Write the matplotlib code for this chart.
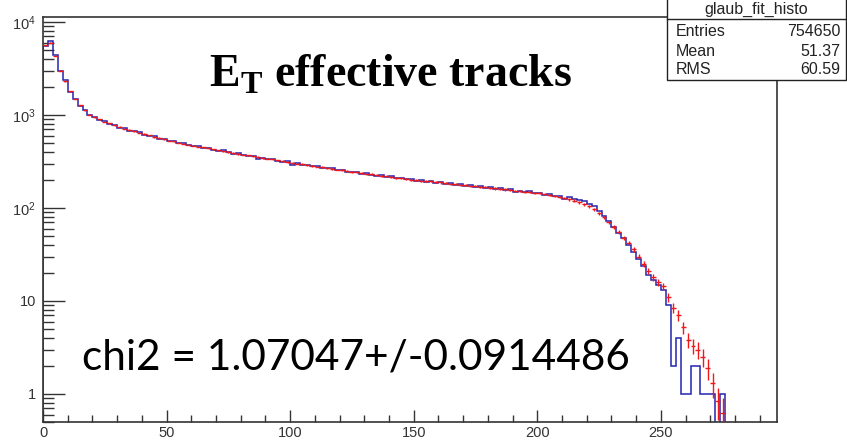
import numpy as np
import matplotlib
matplotlib.use("Agg")
import matplotlib.pyplot as plt
from matplotlib.patches import Rectangle
from matplotlib.lines import Line2D
from matplotlib.ticker import MultipleLocator, LogLocator, FixedLocator, NullFormatter

plt.rcParams['mathtext.fontset'] = 'custom'
plt.rcParams['mathtext.rm'] = 'Liberation Sans'
plt.rcParams['mathtext.it'] = 'Liberation Sans:italic'
plt.rcParams['mathtext.bf'] = 'Liberation Serif:bold'

# ---------------- data ----------------
bin_width = 2
x_start = 0
red_vals = [5600, 6000, 4300, 3000, 2300, 1800, 1480, 1270, 1120, 1010,
            945, 900, 850, 810, 775, 745, 715, 690, 670, 645,
            625, 605, 580, 565, 545, 530, 520, 505, 490, 480,
            468, 457, 447, 437, 427, 417, 408, 398, 390, 382,
            374, 367, 360, 352, 345, 339, 332, 325, 318, 313,
            306, 300, 295, 290, 284, 279, 274, 269, 264, 259,
            255, 250, 245, 242, 238, 234, 230, 226, 223, 219,
            216, 212, 209, 206, 202, 200, 197, 195, 193, 191,
            188, 185, 183, 180, 178, 175, 173, 171, 169, 167,
            164, 162, 160, 158, 156, 153, 151, 150, 148, 146,
            144, 141, 138, 135, 132, 128, 124, 120, 115, 110,
            104, 97, 88, 79, 70, 62, 55, 48, 42, 36,
            30, 25, 21, 18, 16, 14.5, 11, 8.5, 7, 5.2,
            3.8, 3.3, 3.0, 2.5, 1.9, 1.3, 0.85, 0.62]
red_errs = [26, 27, 23, 19, 17, 15, 13.5, 12.5, 11.7, 11,
            10.8, 10.5, 10.2, 10, 9.7, 9.5, 9.4, 9.2, 9, 8.9,
            8.7, 8.6, 8.4, 8.3, 8.2, 8.1, 8, 7.9, 7.7, 7.7,
            7.6, 7.5, 7.4, 7.3, 7.2, 7.1, 7.1, 7, 6.9, 6.8,
            6.8, 6.7, 6.6, 6.6, 6.5, 6.4, 6.4, 6.3, 6.2, 6.2,
            6.1, 6.1, 6, 6, 5.9, 5.8, 5.8, 5.7, 5.7, 5.6,
            5.6, 5.5, 5.5, 5.4, 5.4, 5.4, 5.3, 5.3, 5.2, 5.2,
            5.1, 5.1, 5.1, 5, 5, 4.9, 4.9, 4.9, 4.9, 4.8,
            4.8, 4.8, 4.7, 4.7, 4.7, 4.6, 4.6, 4.6, 4.6, 4.5,
            4.5, 4.5, 4.4, 4.4, 4.4, 4.3, 4.3, 4.3, 4.3, 4.2,
            4.2, 4.2, 4.1, 4.1, 4, 4, 3.9, 3.8, 3.8, 3.7,
            3.6, 3.4, 3.3, 3.1, 2.9, 2.8, 2.6, 2.4, 2.3, 2.1,
            1.9, 1.75, 1.6, 1.5, 1.4, 1.3, 1.2, 1.0, 0.93, 0.8,
            0.68, 0.64, 0.6, 0.55, 0.48, 0.4, 0.32, 0.28]
blue_vals = [5500, 6200, 4400, 2950, 2350, 1780, 1500, 1250, 1130, 990,
             950, 880, 860, 800, 780, 730, 725, 680, 665, 655,
             610, 600, 590, 545, 550, 520, 525, 495, 500, 470,
             460, 465, 440, 445, 420, 410, 415, 395, 385, 388,
             370, 362, 365, 340, 348, 335, 336, 322, 315, 318,
             290, 302, 293, 292, 280, 283, 270, 266, 268, 254,
             258, 246, 243, 245, 232, 236, 228, 222, 226, 215,
             218, 208, 212, 203, 205, 196, 200, 190, 196, 186,
             190, 182, 187, 176, 181, 172, 176, 168, 172, 163,
             167, 158, 163, 155, 160, 148, 154, 147, 151, 144,
             146, 138, 142, 133, 136, 126, 130, 125, 121, 118,
             110, 104, 92, 81, 72, 63, 54, 47, 40, 34,
             28, 24, 19, 17, 15, 13, 9, 2, 4, 1,
             1, 2, 2, 1, 1, 1, 0, 1]

x_max = 297
y_min, y_max = 0.5, 11300
ytick_vals = [1, 10, 100, 1000, 10000]
ytick_labels = ['1', '10', r'$10^{2}$', r'$10^{3}$', r'$10^{4}$']
xtick_major = [0, 50, 100, 150, 200, 250]

stats_title = "glaub_fit_histo"
stats_rows = [("Entries", "754650"), ("Mean", "51.37"), ("RMS", "60.59")]
title_text = r'$\mathbf{E}_{\mathbf{T}}$ effective tracks'
chi2_text = "chi2 = 1.07047+/-0.0914486"

# ---------------- figure ----------------
W, H = 847, 448
fig = plt.figure(figsize=(W / 100, H / 100), dpi=100)
fig.patch.set_facecolor('white')
L, R, B, T = 43, 777, 422, 17
ax = fig.add_axes([L / W, 1 - B / H, (R - L) / W, (B - T) / H])

n = len(red_vals)
edges = x_start + bin_width * np.arange(n + 1)
centers = edges[:-1] + bin_width / 2
blue = np.array(blue_vals, dtype=float)
blue_draw = np.where(blue > 0, blue, 1e-3)

ax.stairs(blue_draw, edges, baseline=1e-3, color='#2424b0', lw=1.1, zorder=2)
ax.errorbar(centers, red_vals, xerr=bin_width / 2, yerr=red_errs, fmt='none',
            ecolor='#f01818', elinewidth=1.0, capsize=0, zorder=3)

ax.set_yscale('log')
ax.set_xlim(0, x_max)
ax.set_ylim(y_min, y_max)

ax.xaxis.set_major_locator(FixedLocator(xtick_major))
ax.xaxis.set_minor_locator(MultipleLocator(10))
ax.yaxis.set_major_locator(FixedLocator(ytick_vals))
ax.set_yticklabels(ytick_labels)
ax.yaxis.set_minor_locator(LogLocator(base=10, subs=np.arange(2, 10)))
ax.yaxis.set_minor_formatter(NullFormatter())

ax.tick_params(axis='both', which='both', direction='in', top=False, right=False,
               colors='#333333', labelcolor='#333333', width=1.0)
ax.tick_params(axis='x', which='major', length=9, pad=3, labelsize=10.5)
ax.tick_params(axis='x', which='minor', length=4.8)
ax.tick_params(axis='y', which='major', length=15.8, pad=5, labelsize=10.5)
ax.tick_params(axis='y', which='minor', length=8)
for lab in ax.get_xticklabels() + ax.get_yticklabels():
    lab.set_family('Liberation Sans')
for s in ax.spines.values():
    s.set_color('#333333')
    s.set_linewidth(1.2)

# title text
fig.text(390 / W, 1 - 86 / H, title_text, ha='center', va='baseline',
         family='Liberation Serif', weight='bold', fontsize=33, color='black')
# chi2 text
fig.text(82 / W, 1 - 370 / H, chi2_text, ha='left', va='baseline',
         family='Lato', fontsize=30.5, color='black')

# stats box
bx0, bx1, by1 = 667, 846, 80
rect = Rectangle((bx0 / W, 1 - by1 / H), (bx1 - bx0) / W, by1 / H + 0.01,
                 transform=fig.transFigure, facecolor='white', edgecolor='#222222',
                 lw=1.0, zorder=10)
fig.add_artist(rect)
fig.add_artist(Line2D([bx0 / W, bx1 / W], [1 - 19 / H, 1 - 19 / H],
                      transform=fig.transFigure, color='#222222', lw=1.0, zorder=11))
fig.text((bx0 + bx1) / 2 / W, 1 - 14 / H, stats_title, ha='center', va='baseline',
         family='Liberation Sans', fontsize=11.5, color='#222222', zorder=12)
row_y = [36, 56, 74]
for (lab, val), yy in zip(stats_rows, row_y):
    fig.text(676 / W, 1 - yy / H, lab, ha='left', va='baseline',
             family='Liberation Sans', fontsize=11.5, color='#222222', zorder=12)
    fig.text(840 / W, 1 - yy / H, val, ha='right', va='baseline',
             family='Liberation Sans', fontsize=11.5, color='#222222', zorder=12)

fig.savefig('out.png', dpi=100)
